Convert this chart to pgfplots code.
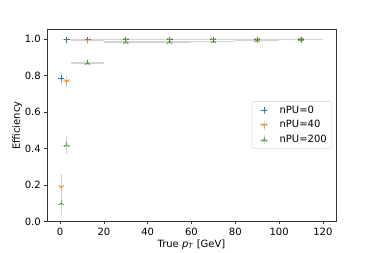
\documentclass[border=0pt]{standalone}
\usepackage{fontspec}
\setmainfont{DejaVu Sans}
\usepackage{pgfplots}
\pgfplotsset{compat=1.18}
\usepackage{pgfplotstable}
\definecolor{tabblue}{HTML}{1F77B4}
\definecolor{taborange}{HTML}{FF7F0E}
\definecolor{tabgreen}{HTML}{2CA02C}
\definecolor{ebar}{HTML}{D3D3D3}
\definecolor{spine}{HTML}{333333}
\pgfplotstableread{
x y ex ey
0.5 0.786 0.5 0.035
3 0.997 2 0.004
12.5 0.997 7.5 0.003
30 0.998 10 0.002
50 0.998 10 0.002
70 0.998 10 0.002
90 0.998 10 0.002
110 0.999 10 0.002
}\tabA
\pgfplotstableread{
x y ex ey
0.5 0.19 0.5 0.07
3 0.771 2 0.03
12.5 0.994 7.5 0.004
30 0.997 10 0.003
50 0.997 10 0.003
70 0.997 10 0.003
90 0.997 10 0.003
110 0.999 10 0.002
}\tabB
\pgfplotstableread{
x y ex ey
0.5 0.10 0.5 0.065
3 0.42 2 0.05
12.5 0.87 7.5 0.01
30 0.985 10 0.006
50 0.985 10 0.006
70 0.99 10 0.005
90 0.995 10 0.004
110 0.999 10 0.003
}\tabC
\pgfplotsset{
  ebars/.style={draw=none, mark=none, forget plot,
    error bars/.cd, x dir=both, x explicit, y dir=both, y explicit, error mark=none,
    error bar style={draw=ebar, line width=1.2bp}},
}
\begin{document}
\fontsize{10bp}{12bp}\selectfont
\begin{tikzpicture}
\path (-47bp,-27.3bp) rectangle (327bp,221.7bp);
\begin{axis}[
  at={(0,0)}, anchor=south west,
  scale only axis, width=289bp, height=192.2bp,
  xmin=-6, xmax=126, ymin=0, ymax=1.054,
  xtick={0,20,...,120},
  ytick={0,0.2,...,1.0},
  yticklabel style={/pgf/number format/.cd,fixed,fixed zerofill,precision=1},
  /pgf/number format/assume math mode=true,
  tick align=outside, tick pos=left,
  major tick length=2.8bp,
  every tick/.style={spine, line width=0.65bp},
  axis line style={spine, line width=0.65bp},
  tick label style={font=\fontsize{10bp}{12bp}\selectfont},
  label style={font=\fontsize{10bp}{12bp}\selectfont},
  xlabel={True \textit{p}\textsubscript{\textit{T}} [GeV]},
  ylabel={Efficiency},
  xlabel style={yshift=3bp},
  ylabel style={yshift=-4bp},
  legend style={at={(0.986,0.503)}, anchor=east, draw=ebar, rounded corners=2bp,
    fill=white, font=\fontsize{10bp}{12bp}\selectfont, row sep=2bp,
    inner xsep=3bp, inner ysep=2bp},
  legend cell align=left,
  legend image code/.code={
    \draw[ebar, line width=1.2bp] (-4bp,0) -- (4bp,0);
    \draw[ebar, line width=1.2bp] (0,-4.5bp) -- (0,4.5bp);
    \draw[#1] plot coordinates {(0bp,0bp)};
    \path (-9bp,0) (13bp,0);
  },
]
\addplot[ebars] table[x=x, y=y, x error=ex, y error=ey]{\tabA};
\addplot[only marks, mark=+, mark size=3bp, color=tabblue, line width=0.8bp]
  table[x=x, y=y]{\tabA};
\addlegendentry{nPU=0}
\addplot[ebars] table[x=x, y=y, x error=ex, y error=ey]{\tabB};
\addplot[only marks, mark=Mercedes star flipped, mark size=3bp, color=taborange, line width=0.8bp]
  table[x=x, y=y]{\tabB};
\addlegendentry{nPU=40}
\addplot[ebars] table[x=x, y=y, x error=ex, y error=ey]{\tabC};
\addplot[only marks, mark=Mercedes star, mark size=3bp, color=tabgreen, line width=0.8bp]
  table[x=x, y=y]{\tabC};
\addlegendentry{nPU=200}
\end{axis}
\end{tikzpicture}
\end{document}
